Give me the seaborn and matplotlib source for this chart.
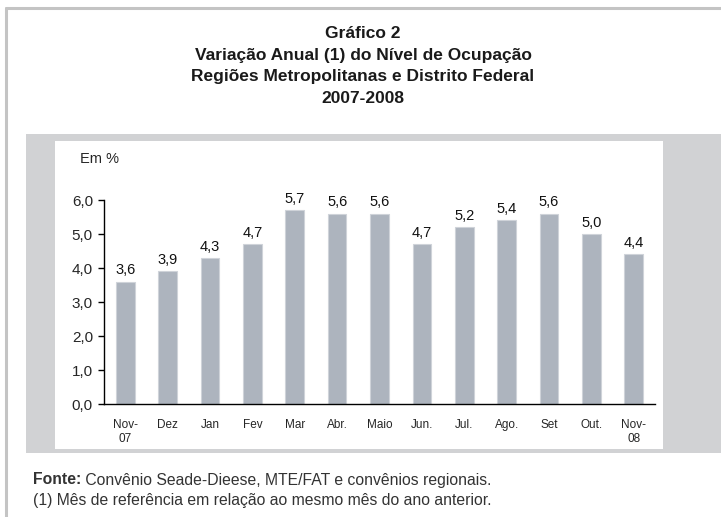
import matplotlib
matplotlib.use("Agg")
import pandas as pd
import seaborn as sns
import matplotlib.pyplot as plt
from matplotlib.patches import Rectangle
from matplotlib.lines import Line2D

meses = ["Nov-\n07", "Dez", "Jan", "Fev", "Mar", "Abr.", "Maio", "Jun.", "Jul.", "Ago.", "Set", "Out.", "Nov-\n08"]
valores = [3.6, 3.9, 4.3, 4.7, 5.7, 5.6, 5.6, 4.7, 5.2, 5.4, 5.6, 5.0, 4.4]
yticks = [0, 1, 2, 3, 4, 5, 6]

titulo = ["Gráfico 2",
          "Variação Anual (1) do Nível de Ocupação",
          "Regiões Metropolitanas e Distrito Federal",
          "2007-2008"]

sns.set_style("white")
plt.rcParams["font.family"] = ["Liberation Sans", "DejaVu Sans"]

W, H = 721, 517
fig = plt.figure(figsize=(W / 100, H / 100), dpi=100)

def fx(px):
    return px / W

def fy(py):
    return 1 - py / H

# moldura e paineis
fig.add_artist(Line2D([fx(6), fx(6)], [0, fy(8)], color="#c4c4c4", lw=2.2, transform=fig.transFigure))
fig.add_artist(Line2D([fx(6), 1], [fy(8), fy(8)], color="#c4c4c4", lw=2.2, transform=fig.transFigure))
fig.add_artist(Rectangle((fx(26), fy(453)), fx(721 - 26), (453 - 134) / H,
                         facecolor="#d1d2d4", edgecolor="none", transform=fig.transFigure, zorder=0))
fig.add_artist(Rectangle((fx(55), fy(449)), fx(663 - 55), (449 - 141) / H,
                         facecolor="white", edgecolor="none", transform=fig.transFigure, zorder=0))

ax = fig.add_axes([fx(104), fy(404), fx(655 - 104), (404 - 200) / H])
ax.set_facecolor("none")

df = pd.DataFrame({"mes": meses, "valor": valores})
sns.barplot(data=df, x="mes", y="valor", color="#adb4be", saturation=1, width=0.44,
            edgecolor="#cfd3d9", linewidth=0.8, ax=ax)

for c in ax.containers:
    ax.bar_label(c, labels=[f"{v:.1f}".replace(".", ",") for v in valores],
                 padding=3, fontsize=10.5, color="#111111")

ax.set_xlim(-0.5, len(meses) - 0.5)
ax.set_ylim(0, 6)
ax.set_yticks(yticks)
ax.set_yticklabels([f"{v:.1f}".replace(".", ",") for v in yticks], fontsize=11)
ax.set_xticks(range(len(meses)))
ax.set_xticklabels(meses, fontsize=8.5)
ax.set_xticks([i - 0.5 for i in range(len(meses) + 1)], minor=True)
ax.tick_params(axis="x", which="major", length=0, pad=11)
ax.tick_params(axis="x", which="minor", length=4, width=1, direction="out", color="black")
ax.tick_params(axis="y", length=4, width=1, direction="out", color="black", pad=4, left=True)
ax.set_xlabel("")
ax.set_ylabel("")
for s in ["top", "right"]:
    ax.spines[s].set_visible(False)
for s in ["left", "bottom"]:
    ax.spines[s].set_color("black")
    ax.spines[s].set_linewidth(1)

fig.text(fx(80), fy(159), "Em %", fontsize=10.5, va="center", ha="left")

# titulo (linhas de base)
ys = [38, 60, 81, 103]
for t, y in zip(titulo, ys):
    fig.text(fx(363), fy(y), t, ha="center", va="baseline", fontsize=12.5,
             fontweight="bold", color="#1a1a1a")

# rodape
f1 = fig.text(fx(33), fy(480), "Fonte:", fontsize=11.3, fontweight="bold", va="center", color="#333333")
ax.annotate(" Convênio Seade-Dieese, MTE/FAT e convênios regionais.", xy=(1, 0.5), xycoords=f1,
            va="center", ha="left", fontsize=11.3, color="#333333", annotation_clip=False)
fig.text(fx(33), fy(501), "(1) Mês de referência em relação ao mesmo mês do ano anterior.", fontsize=11.3,
         va="center", color="#333333")

fig.savefig("out.png", dpi=100)
